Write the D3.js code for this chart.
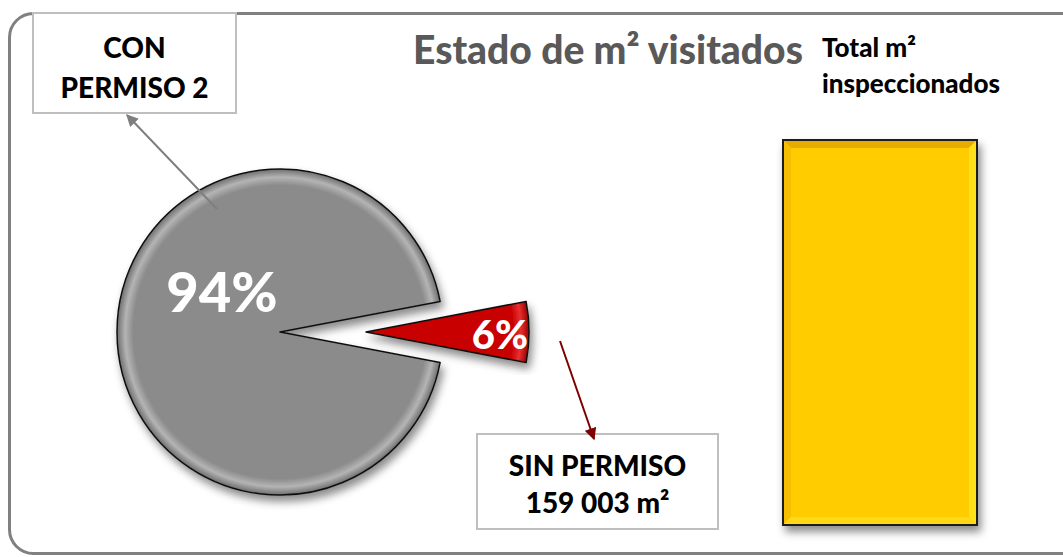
<!DOCTYPE html>
<html>
<head>
<meta charset="utf-8">
<script src="https://cdn.jsdelivr.net/npm/d3@7"></script>
<style>
  body { margin: 0; background: #fff; }
  svg { display: block; font-family: Lato, "Open Sans", sans-serif; }
</style>
</head>
<body>
<script>
var w = 1063;
var h = 557;

// data
var categories = ["CON PERMISO 2", "SIN PERMISO"];
var percents = [94, 6];
var sinPermisoM2 = 159003;
var barCategory = ["Total m² inspeccionados"];
var barValues = [2650000];

var fmt = d3.formatLocale({ decimal: ",", thousands: " ", grouping: [3], currency: ["", ""] }).format(",");

var svg = d3.select("body").append("svg").attr("width", w).attr("height", h);
var defs = svg.append("defs");

// shadows
defs.append("filter").attr("id", "shadow").attr("x", "-20%").attr("y", "-20%").attr("width", "140%").attr("height", "140%")
  .append("feDropShadow").attr("dx", 3).attr("dy", 6).attr("stdDeviation", 4)
  .attr("flood-color", "#000").attr("flood-opacity", 0.45);

// pie gradients (bevel look)
var r = 163;
function bevelGrad(id, base, light, dark) {
  var g = defs.append("radialGradient").attr("id", id)
    .attr("gradientUnits", "userSpaceOnUse").attr("cx", 0).attr("cy", 0).attr("r", r);
  g.append("stop").attr("offset", "0%").attr("stop-color", base);
  g.append("stop").attr("offset", "90%").attr("stop-color", base);
  g.append("stop").attr("offset", "95%").attr("stop-color", light);
  g.append("stop").attr("offset", "100%").attr("stop-color", dark);
}
bevelGrad("gGray", "#8b8b8b", "#b4b4b4", "#6e6e6e");
bevelGrad("gRed", "#c80000", "#e83030", "#9a0000");

// outer frame
svg.append("rect")
  .attr("x", 9.5).attr("y", 13.5).attr("width", 1075).attr("height", 540)
  .attr("rx", 24).attr("ry", 24)
  .style("fill", "none").style("stroke", "#808080").style("stroke-width", 3);

// title
svg.append("text").attr("x", 413).attr("y", 64)
  .style("font-size", "39px").style("font-weight", "900").style("fill", "#595959")
  .text("Estado de m² visitados");

// pie
var cx = 280, cy = 332, explode = 86;
var pie = d3.pie().sort(null)
  .startAngle(Math.PI / 2 + Math.PI * percents[1] / 100)
  .endAngle(Math.PI / 2 + Math.PI * percents[1] / 100 + 2 * Math.PI);
var arc = d3.arc().innerRadius(0).outerRadius(r);
var arcs = pie(percents);

var slices = svg.selectAll("g.slice").data(arcs).enter().append("g")
  .attr("class", "slice")
  .attr("transform", function (d, i) {
    var a = (d.startAngle + d.endAngle) / 2;
    var off = i == 1 ? explode : 0;
    return "translate(" + (cx + off * Math.sin(a)) + "," + (cy - off * Math.cos(a)) + ")";
  });

slices.append("path")
  .attr("d", arc)
  .attr("filter", "url(#shadow)")
  .style("fill", function (d, i) { return i == 0 ? "url(#gGray)" : "url(#gRed)"; })
  .style("stroke", "#111")
  .style("stroke-width", 1.5)
  .style("stroke-linejoin", "round");

// percent labels
slices.append("text")
  .attr("x", function (d, i) { return i == 0 ? -58 : 134; })
  .attr("y", function (d, i) { return i == 0 ? -20 : 17; })
  .attr("text-anchor", "middle")
  .style("font-weight", "900")
  .style("fill", "#fff")
  .style("font-size", function (d, i) { return i == 0 ? "56px" : "40px"; })
  .text(function (d) { return d.data + "%"; });

// callout boxes
function callout(x, y, bw, bh, lines, lineY) {
  var g = svg.append("g");
  g.append("rect").attr("x", x).attr("y", y).attr("width", bw).attr("height", bh)
    .style("fill", "#fff").style("stroke", "#bfbfbf").style("stroke-width", 2);
  g.selectAll("text").data(lines).enter().append("text")
    .attr("x", x + bw / 2)
    .attr("y", function (d, i) { return lineY[i]; })
    .attr("text-anchor", "middle")
    .style("font-size", "28px").style("font-weight", "900").style("fill", "#000")
    .text(function (d) { return d; });
}
callout(33, 13, 203, 100, ["CON", "PERMISO 2"], [58, 98]);
callout(477, 434, 241, 95, [categories[1], fmt(sinPermisoM2) + " m²"], [476, 513]);

// leader arrows
function marker(id, color) {
  defs.append("marker").attr("id", id).attr("viewBox", "0 0 10 10")
    .attr("refX", 9).attr("refY", 5).attr("markerWidth", 6).attr("markerHeight", 6)
    .attr("orient", "auto")
    .append("path").attr("d", "M0,0L10,5L0,10z").style("fill", color);
}
marker("arrGray", "#7f7f7f");
marker("arrRed", "#7f0000");
svg.append("line").attr("x1", 217).attr("y1", 209).attr("x2", 127).attr("y2", 115)
  .style("stroke", "#7f7f7f").style("stroke-width", 2).attr("marker-end", "url(#arrGray)");
svg.append("line").attr("x1", 560).attr("y1", 341).attr("x2", 594).attr("y2", 439)
  .style("stroke", "#7f0000").style("stroke-width", 2).attr("marker-end", "url(#arrRed)");

// bar
var x = d3.scaleBand().domain(barCategory).range([783, 977]).padding(0);
var y = d3.scaleLinear().domain([0, barValues[0]]).range([525, 140]);

svg.append("text").attr("x", 822).attr("y", 57)
  .style("font-size", "26px").style("font-weight", "900").style("fill", "#000")
  .text("Total m²");
svg.append("text").attr("x", 822).attr("y", 93)
  .style("font-size", "26px").style("font-weight", "900").style("fill", "#000")
  .text("inspeccionados");

var bars = svg.selectAll("g.bar").data(barValues).enter().append("g").attr("class", "bar");
bars.append("rect")
  .attr("x", function (d, i) { return x(barCategory[i]); })
  .attr("y", function (d) { return y(d); })
  .attr("width", x.bandwidth())
  .attr("height", function (d) { return y(0) - y(d); })
  .attr("filter", "url(#shadow)")
  .style("fill", "#ffcc00")
  .style("stroke", "#1a1a1a").style("stroke-width", 2);

// bevel edges on the bar
var bv = 7;
bars.each(function (d, i) {
  var x0 = x(barCategory[i]) + 1, x1 = x0 + x.bandwidth() - 2;
  var y0 = y(d) + 1, y1 = y(0) - 1;
  var g = d3.select(this);
  var sides = [
    { c: "#e6ac00", p: [[x0, y0], [x1, y0], [x1 - bv, y0 + bv], [x0 + bv, y0 + bv]] },
    { c: "#f5be00", p: [[x0, y0], [x0 + bv, y0 + bv], [x0 + bv, y1 - bv], [x0, y1]] },
    { c: "#ffe01a", p: [[x1, y0], [x1, y1], [x1 - bv, y1 - bv], [x1 - bv, y0 + bv]] },
    { c: "#ffd81a", p: [[x0, y1], [x0 + bv, y1 - bv], [x1 - bv, y1 - bv], [x1, y1]] }
  ];
  g.selectAll("polygon").data(sides).enter().append("polygon")
    .attr("points", function (s) { return s.p.join(" "); })
    .style("fill", function (s) { return s.c; });
});
</script>
</body>
</html>
